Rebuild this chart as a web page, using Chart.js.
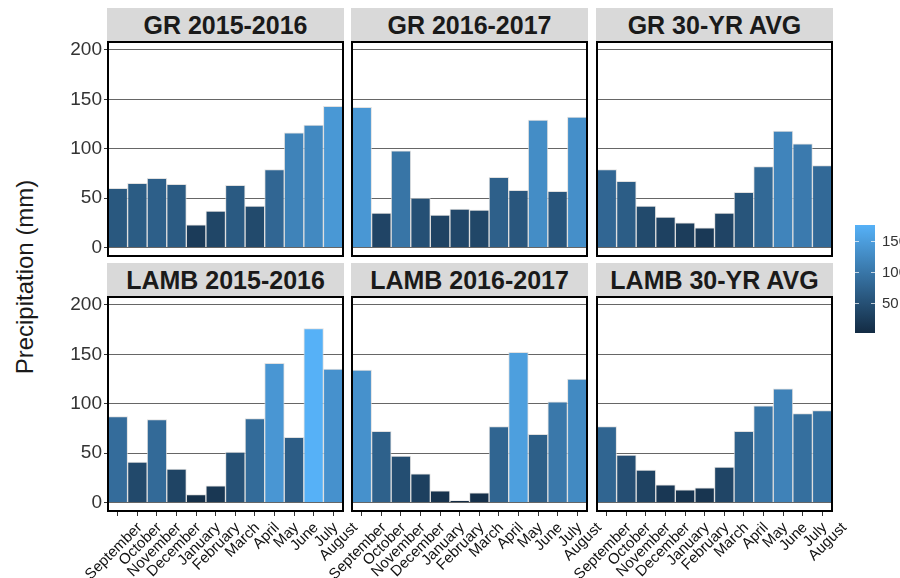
<!DOCTYPE html>
<html>
<head>
<meta charset="utf-8">
<script src="https://cdn.jsdelivr.net/npm/chart.js@4.4.0/dist/chart.umd.min.js"></script>
<style>
  html, body { margin: 0; padding: 0; background: #fff; }
  body { width: 900px; height: 578px; position: relative; overflow: hidden; font-family: 'Liberation Sans', Arial, sans-serif; }
  .holder { position: absolute; }
  .strip { position: absolute; height: 33px; line-height: 34px; background: #d9d9d9; text-align: center; font-weight: bold; font-size: 25px; color: #1a1a1a; white-space: nowrap; }
  #yTitle { position: absolute; left: 25px; top: 277px; transform: translate(-50%, -50%) rotate(-90deg); font-size: 24px; color: #1a1a1a; white-space: nowrap; }
  .legendTick { position: absolute; width: 4px; height: 1px; background: rgba(255, 255, 255, 0.7); }
  .legendLabel { position: absolute; font-size: 15px; color: #333; line-height: 18px; }
</style>
</head>
<body>
<div id="yTitle">Precipitation (mm)</div>
<script>
// months run from September to August (water year)
const MONTHS = ['September', 'October', 'November', 'December', 'January', 'February',
    'March', 'April', 'May', 'June', 'July', 'August']

const PANEL_TITLES = ['GR 2015-2016', 'GR 2016-2017', 'GR 30-YR AVG',
    'LAMB 2015-2016', 'LAMB 2016-2017', 'LAMB 30-YR AVG']

// precipitation in mm
const gr1516 = [60, 65, 70, 64, 23, 37, 63, 42, 79, 116, 124, 143]
const gr1617 = [142, 35, 98, 50, 33, 39, 38, 71, 58, 129, 57, 132]
const grAvg = [79, 67, 42, 31, 25, 20, 35, 56, 82, 118, 105, 83]
const lamb1516 = [87, 41, 84, 34, 8, 17, 51, 85, 141, 66, 176, 135]
const lamb1617 = [134, 72, 47, 29, 12, 2, 10, 77, 152, 69, 102, 125]
const lambAvg = [77, 48, 33, 18, 13, 15, 36, 72, 98, 115, 90, 93]

const yTicks = [0, 50, 100, 150, 200]
const legendTicks = [50, 100, 150]

let panelData = [gr1516, gr1617, grAvg, lamb1516, lamb1617, lambAvg]

let allValues = panelData.flat()
let minValue = Math.min(...allValues)
let maxValue = Math.max(...allValues)

const LOW = [19, 43, 67]
const HIGH = [86, 177, 247]

function fillFor(v) {
    let t = (v - minValue) / (maxValue - minValue)
    let c = LOW.map((lo, i) => Math.round(lo + (HIGH[i] - lo) * t))
    return 'rgb(' + c.join(',') + ')'
}

Chart.defaults.font.family = "'Liberation Sans', Arial, sans-serif"

const boxBorder = {
    id: 'boxBorder',
    afterDraw(chart) {
        let a = chart.chartArea
        let ctx = chart.ctx
        ctx.save()
        ctx.strokeStyle = '#000'
        ctx.lineWidth = 2
        ctx.strokeRect(a.left, a.top, a.right - a.left, a.bottom - a.top)
        ctx.restore()
    }
}

const colLeft = [108, 352, 597]
const rowTop = [42, 297]
const boxW = 235
const boxH = 214
const padTop = 12

function drawPanel(index) {
    let row = Math.floor(index / 3)
    let col = index % 3
    let values = panelData[index]
    let leftMargin = col == 0 ? 108 : 30
    let bottomMargin = row == 1 ? 67 : 3
    // bottom row needs room on the right for the slanted month names
    let padRight = row == 1 ? 30 : 3

    let holder = document.createElement('div')
    holder.className = 'holder'
    holder.style.left = (colLeft[col] - leftMargin) + 'px'
    holder.style.top = (rowTop[row] - padTop) + 'px'
    let canvas = document.createElement('canvas')
    canvas.width = leftMargin + boxW + padRight
    canvas.height = padTop + boxH + bottomMargin
    holder.appendChild(canvas)
    document.body.appendChild(holder)

    new Chart(canvas, {
        type: 'bar',
        data: {
            labels: MONTHS,
            datasets: [{
                data: values,
                backgroundColor: values.map(fillFor),
                borderColor: 'rgba(215, 215, 215, 0.75)',
                borderWidth: 1,
                borderSkipped: 'bottom',
                barPercentage: 1,
                categoryPercentage: 1
            }]
        },
        options: {
            responsive: false,
            animation: false,
            devicePixelRatio: 1,
            layout: {
                padding: { left: col == 0 ? 0 : leftMargin, top: padTop, right: padRight, bottom: row == 1 ? 0 : 3 }
            },
            plugins: {
                legend: { display: false },
                tooltip: { enabled: false }
            },
            scales: {
                x: {
                    afterFit: s => { s.height = row == 1 ? bottomMargin : 0; s.paddingLeft = 0; s.paddingRight = 0 },
                    border: { display: false },
                    grid: { drawOnChartArea: false, offset: false, drawTicks: row == 1, tickLength: 5, tickColor: '#333' },
                    ticks: {
                        display: row == 1, autoSkip: false, minRotation: 45, maxRotation: 45,
                        labelOffset: 22, padding: 3, color: '#111', font: { size: 15 }
                    }
                },
                y: {
                    min: -8.5,
                    max: 208,
                    afterBuildTicks: s => { s.ticks = yTicks.map(v => ({ value: v })) },
                    afterFit: s => { s.width = col == 0 ? leftMargin : 0; s.paddingTop = 0; s.paddingBottom = 0 },
                    border: { display: false },
                    grid: { color: '#666', lineWidth: 1, drawTicks: col == 0, tickLength: 4, tickColor: '#333' },
                    ticks: { display: col == 0, padding: 2, color: '#333', font: { size: 19 } }
                }
            }
        },
        plugins: [boxBorder]
    })

    let strip = document.createElement('div')
    strip.className = 'strip'
    strip.textContent = PANEL_TITLES[index]
    strip.style.left = (colLeft[col] - 1) + 'px'
    strip.style.width = (boxW + 2) + 'px'
    strip.style.top = (rowTop[row] - 34) + 'px'
    document.body.appendChild(strip)
}

for (let i = 0; i < panelData.length; i++) {
    drawPanel(i)
}

// colour bar legend
let legendTop = 225
let legendHeight = 108
let legendLeft = 855
let legendWidth = 20

function legendY(v) {
    return legendTop + (maxValue - v) / (maxValue - minValue) * legendHeight
}

let bar = document.createElement('div')
bar.style.position = 'absolute'
bar.style.left = legendLeft + 'px'
bar.style.top = legendTop + 'px'
bar.style.width = legendWidth + 'px'
bar.style.height = legendHeight + 'px'
bar.style.background = 'linear-gradient(to top, rgb(' + LOW.join(',') + '), rgb(' + HIGH.join(',') + '))'
document.body.appendChild(bar)

legendTicks.forEach(v => {
    let y = Math.round(legendY(v))
    ;[legendLeft, legendLeft + legendWidth - 4].forEach(x => {
        let t = document.createElement('div')
        t.className = 'legendTick'
        t.style.left = x + 'px'
        t.style.top = y + 'px'
        document.body.appendChild(t)
    })
    let label = document.createElement('div')
    label.className = 'legendLabel'
    label.textContent = v
    label.style.left = '882px'
    label.style.top = (y - 9) + 'px'
    document.body.appendChild(label)
})
</script>
</body>
</html>
